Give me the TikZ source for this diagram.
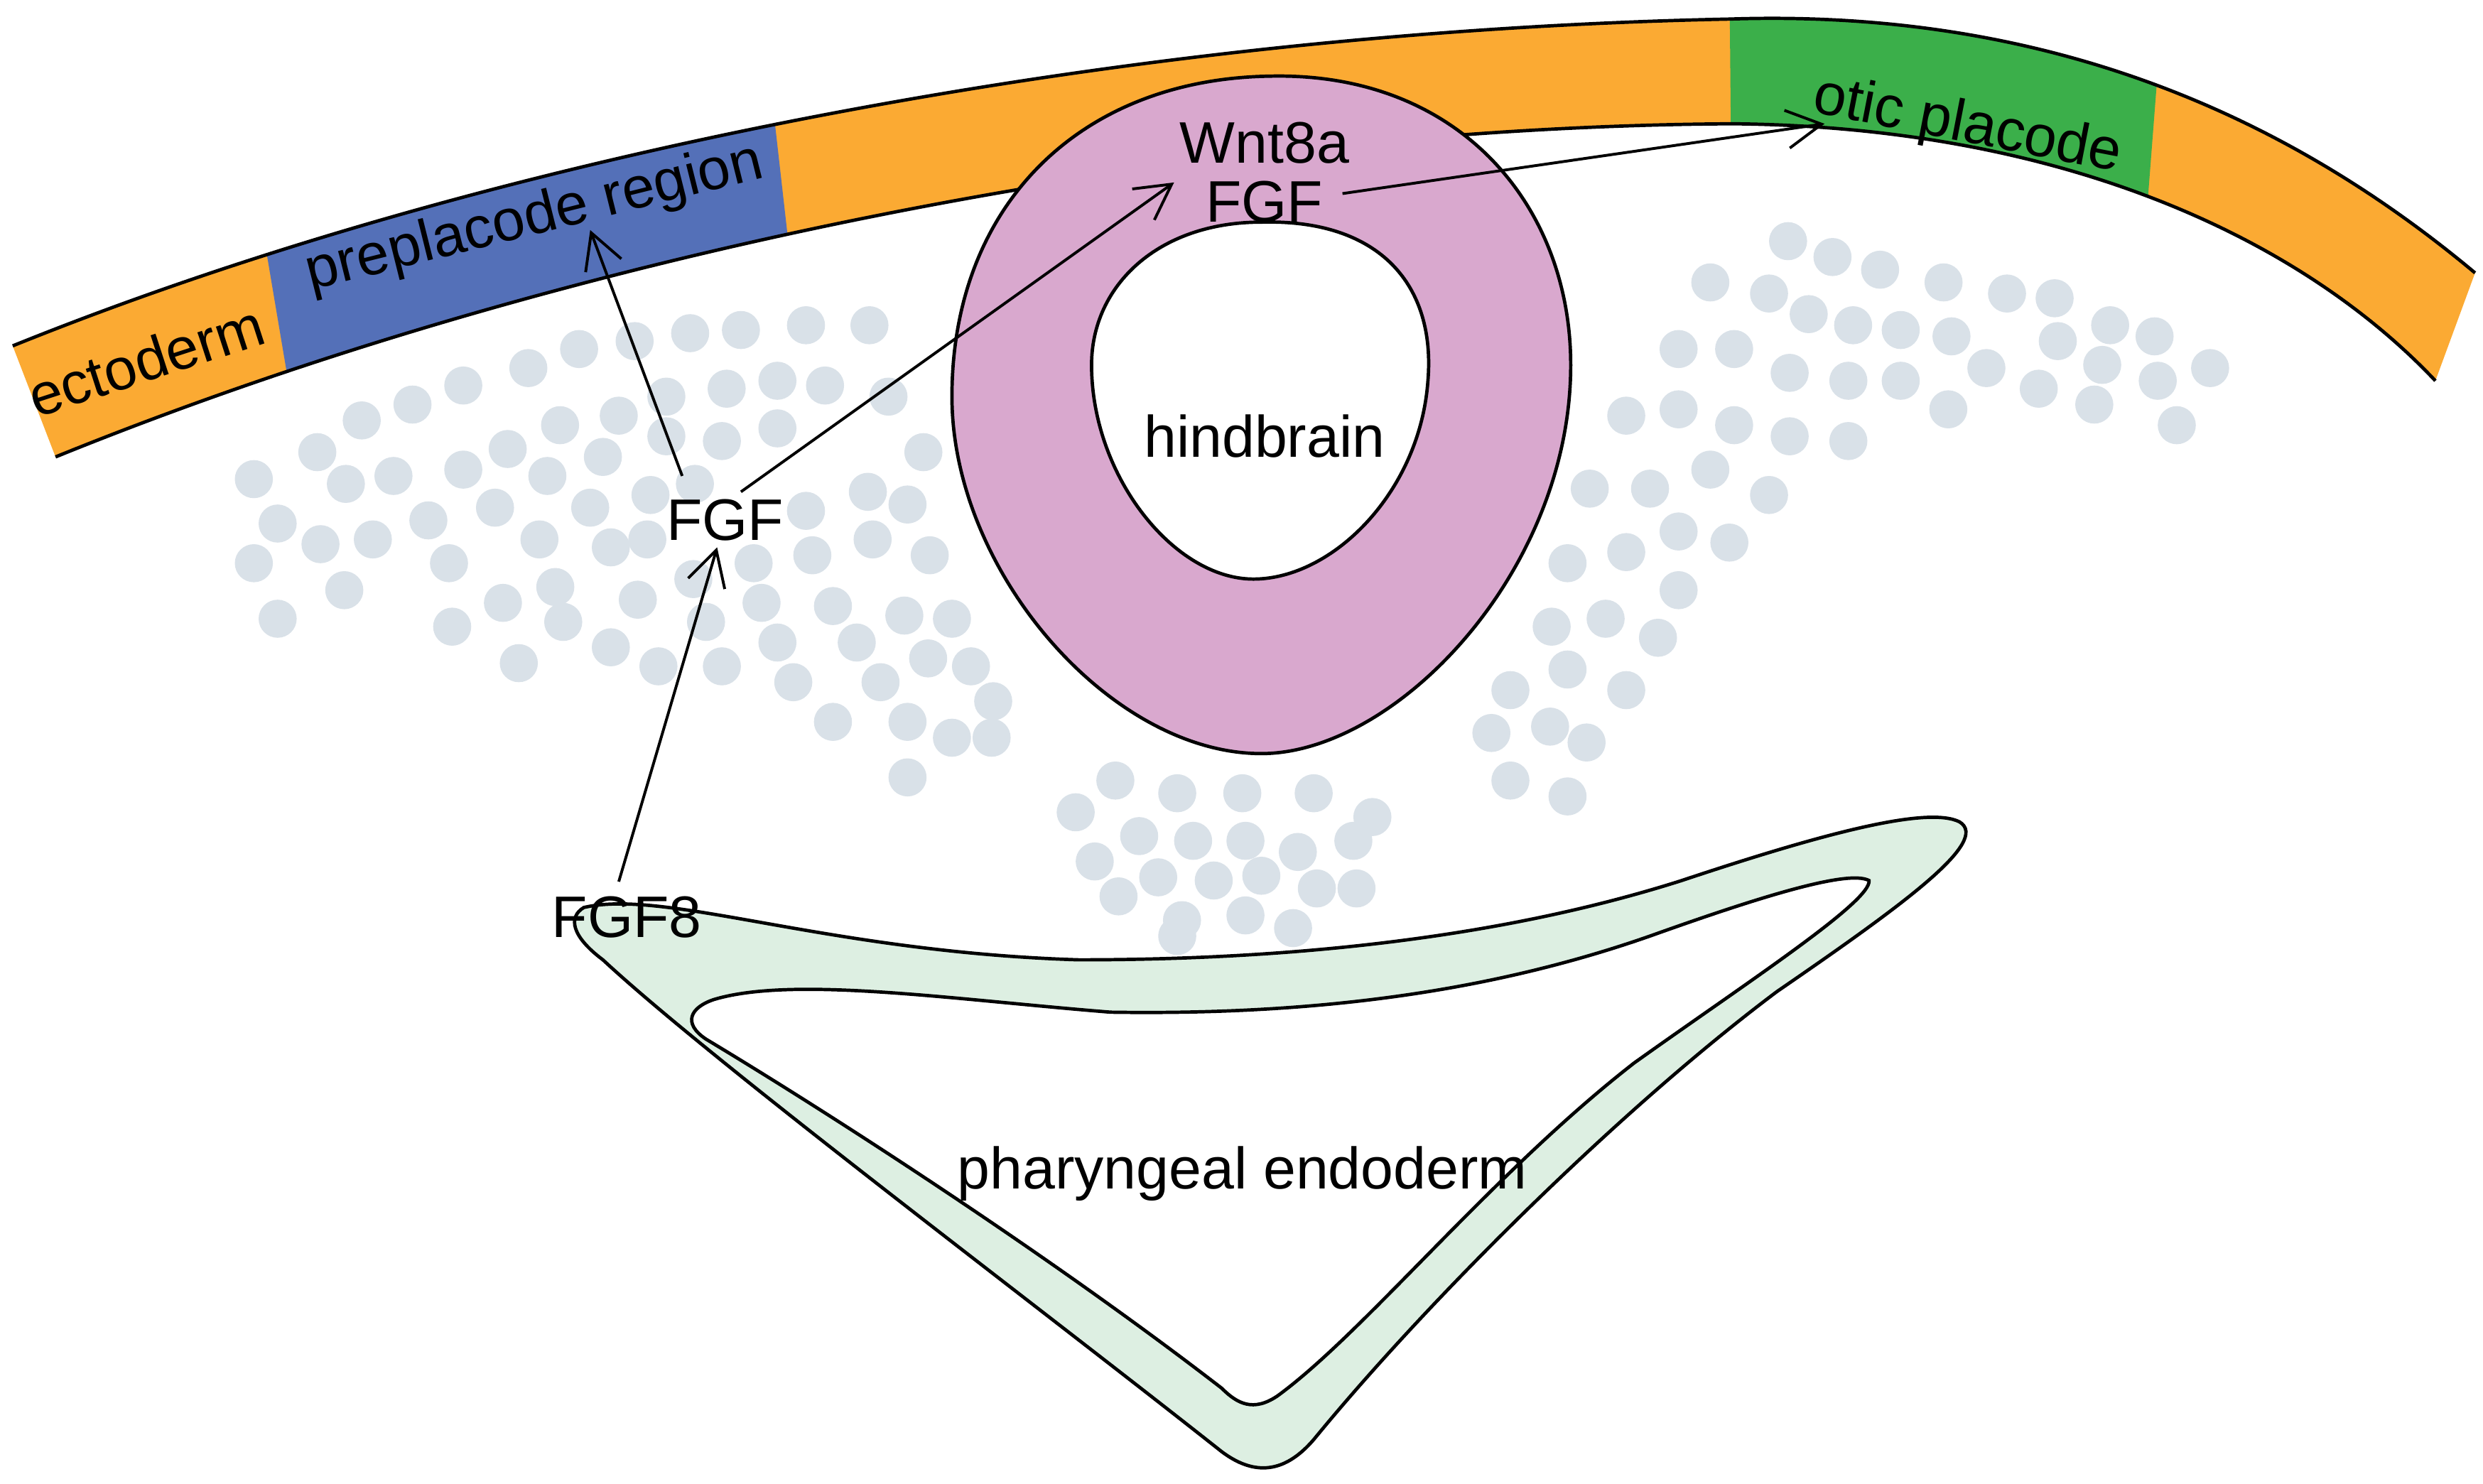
\documentclass[tikz,border=0pt]{standalone}
\usepackage{fontspec}
\setmainfont{Liberation Sans}
\usetikzlibrary{arrows.meta}
\definecolor{orng}{HTML}{FBAA33}
\definecolor{blu}{HTML}{5470B8}
\definecolor{grn}{HTML}{3BAF4A}
\definecolor{pnk}{HTML}{D9A8CE}
\definecolor{endo}{HTML}{DDEFE2}
\definecolor{cell}{HTML}{D9E1E8}
\tikzset{lbl/.style={font=\fontsize{10.5}{12}\selectfont,inner sep=1pt},
 arr/.style={-{Straight Barb[length=2.2mm,width=2.4mm]},line width=0.5pt},
 cellc/.style={fill=cell}}
\begin{document}
\begin{tikzpicture}[x=0.01cm,y=-0.01cm]
\useasboundingbox (0,0) rectangle (1565,935);
% ectoderm band
\def\band{(8,218) .. controls (300,100) and (700,20) .. (1090,12) .. controls (1300,5) and (1450,80) .. (1560,172) -- (1535,240) .. controls (1450,150) and (1300,80) .. (1092,78) .. controls (750,80) and (350,160) .. (35,288) -- cycle}
\fill[orng] \band;
\begin{scope}
\clip \band;
\fill[blu] (158,100) -- (483,30) -- (500,180) -- (185,260) -- cycle;
\fill[grn] (1090,-20) -- (1365,-20) -- (1348,200) -- (1092,200) -- cycle;
\end{scope}
\draw[line width=0.6pt] (8,218) .. controls (300,100) and (700,20) .. (1090,12) .. controls (1300,5) and (1450,80) .. (1560,172);
\draw[line width=0.6pt] (1535,240) .. controls (1450,150) and (1300,80) .. (1092,78) .. controls (750,80) and (350,160) .. (35,288);
% cells
\foreach \p in {(400,215),(435,210),(467,208),(508,205),(548,205),(365,220),(333,232),(292,243),(260,255),(228,265),(200,285),(160,302),(175,330),(160,355),(175,390),(217,372),(202,343),(235,340),(218,305),(248,300),(270,328),(292,296),(320,283),(353,268),(390,262),(420,250),(458,245),(490,240),(520,243),(560,250),(490,270),(455,278),(420,275),(380,288),(345,300),(312,320),(283,355),(317,380),(350,370),(385,345),(408,340),(372,320),(410,312),(438,305),(508,322),(547,310),(582,285),(572,318),(586,350),(550,340),(512,350),(475,355),(437,365),(402,378),(355,392),(327,418),(285,395),(385,408),(415,420),(445,392),(480,380),(525,382),(570,388),(600,390),(490,405),(540,405),(585,415),(612,420),(500,430),(455,420),(555,430),(626,442),(525,455),(572,455),(600,465),(625,465),(572,490),(340,340),
(703,492),(742,500),(783,500),(828,500),(865,515),(678,512),(718,527),(752,530),(785,530),(818,537),(853,530),(690,543),(730,553),(765,555),(795,552),(830,560),(855,560),(705,565),(745,580),(785,577),(815,585),(742,590),
(1127,152),(1155,162),(1185,170),(1225,178),(1265,185),(1295,188),(1078,178),(1115,185),(1140,198),(1168,205),(1198,208),(1230,212),(1297,215),(1330,205),(1358,212),(1058,220),(1093,220),(1128,235),(1165,240),(1198,240),(1252,232),(1285,245),(1325,230),(1360,240),(1393,232),(1025,262),(1058,258),(1093,268),(1128,275),(1165,278),(1228,258),(1320,255),(1372,268),(1002,308),(1040,308),(1078,296),(1115,312),(1025,348),(1058,335),(1090,342),(988,355),(1058,372),(978,395),(1012,390),(1045,402),(952,435),(988,422),(1025,435),(940,462),(977,458),(1000,468),(952,492),(988,502)}
  \fill[cellc] \p circle (12);
% hindbrain
\filldraw[pnk,draw=black,line width=0.6pt,even odd rule]
 (800,48) .. controls (920,45) and (990,130) .. (990,230) .. controls (990,360) and (880,475) .. (795,475) .. controls (700,475) and (600,360) .. (600,250) .. controls (600,130) and (680,50) .. (800,48) -- cycle
 (795,140) .. controls (870,138) and (905,180) .. (900,240) .. controls (895,310) and (840,365) .. (790,365) .. controls (740,365) and (688,300) .. (688,230) .. controls (688,180) and (730,140) .. (795,140) -- cycle;
% pharyngeal endoderm
\filldraw[endo,draw=black,line width=0.6pt,even odd rule]
 (368,572) .. controls (420,560) and (520,600) .. (680,605) .. controls (820,605) and (950,590) .. (1060,555) .. controls (1150,525) and (1215,508) .. (1235,518) .. controls (1255,530) and (1200,570) .. (1120,625) .. controls (1020,700) and (900,820) .. (830,905) .. controls (810,930) and (790,930) .. (770,915) .. controls (650,820) and (450,670) .. (380,605) .. controls (360,590) and (358,578) .. (368,572) -- cycle
 (450,630) .. controls (500,615) and (600,630) .. (700,638) .. controls (830,640) and (940,625) .. (1040,590) .. controls (1110,565) and (1165,548) .. (1178,555) .. controls (1180,568) and (1100,620) .. (1030,670) .. controls (940,740) and (860,840) .. (805,880) .. controls (790,890) and (780,885) .. (770,875) .. controls (660,790) and (520,700) .. (445,655) .. controls (430,645) and (435,635) .. (450,630) -- cycle;
% labels
\node[lbl,rotate=18] (ecto) at (92,227) {ectoderm};
\node[lbl,rotate=14] (pre) at (337,138) {preplacode region};
\node[lbl] (wnt) at (797,90) {Wnt8a};
\node[lbl] (fgfh) at (797,127) {FGF};
\node[lbl,rotate=-11] (otic) at (1240,80) {otic placode};
\node[lbl] (hb) at (797,275) {hindbrain};
\node[lbl] (fgf) at (457,328) {FGF};
\node[lbl] (fgf8) at (395,578) {FGF8};
\node[lbl] (phar) at (783,740) {pharyngeal endoderm};
\coordinate (pt) at (372,145);
\coordinate (ot) at (1150,78);
\draw[arr] (430,300) -- (pt);
\draw[arr] (467,310) -- (740,115);
\draw[arr] (fgf8.north) ++(-5,-5) -- (452,345);
\draw[arr] (fgfh.east) ++(8,-5) -- (ot);
\end{tikzpicture}
\end{document}
